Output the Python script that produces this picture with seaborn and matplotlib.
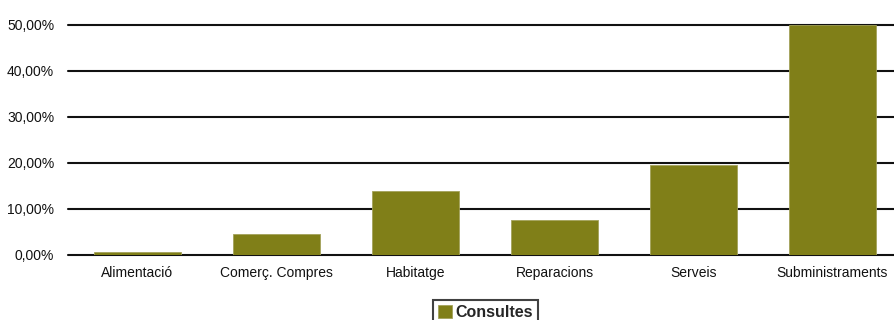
import matplotlib
matplotlib.use("Agg")
import matplotlib.pyplot as plt
import seaborn as sns
import pandas as pd
from matplotlib.ticker import FuncFormatter, MultipleLocator

categories = ["Alimentació", "Comerç. Compres", "Habitatge", "Reparacions", "Serveis", "Subministraments"]
consultes = [0.6, 4.6, 13.85, 7.7, 19.6, 49.9]
series_name = "Consultes"
bar_color = "#807f18"

sns.set_theme(style="white")
plt.rcParams["font.family"] = ["Liberation Sans", "DejaVu Sans"]

df = pd.DataFrame({"categoria": categories, "valor": consultes})

fig = plt.figure(figsize=(8.95, 3.2), dpi=100)
ax = fig.add_axes([68 / 895, 65 / 320, 834 / 895, 230 / 320])

sns.barplot(data=df, x="categoria", y="valor", color=bar_color, saturation=1,
            width=0.63, label=series_name, ax=ax, zorder=3,
            edgecolor="#a3a25a", linewidth=0.6)

ax.set_xlim(-0.5, len(categories) - 0.5)
ax.set_ylim(0, 50)
ax.yaxis.set_major_locator(MultipleLocator(10))
ax.yaxis.set_major_formatter(FuncFormatter(lambda v, _: f"{v:.2f}".replace(".", ",") + "%"))
ax.grid(axis="y", color="#111111", linewidth=1.5, zorder=0)
ax.set_axisbelow(True)
for gl in ax.get_ygridlines():
    gl.set_clip_on(False)
for s in ax.spines.values():
    s.set_visible(False)
ax.tick_params(axis="both", length=0, labelsize=10, colors="#111111")
ax.tick_params(axis="y", pad=10)
ax.tick_params(axis="x", pad=8)
ax.set_xlabel("")
ax.set_ylabel("")
if ax.get_legend() is not None:
    ax.get_legend().remove()

handles, labels = ax.get_legend_handles_labels()
leg = fig.legend(handles, labels, loc="upper center", bbox_to_anchor=(485.5 / 895, 1 - 300 / 320),
                 frameon=True, fancybox=False, prop={"weight": "bold", "size": 11.5},
                 handlelength=0.85, handleheight=0.85, handletextpad=0.25, borderpad=0.3,
                 borderaxespad=0)
leg.get_frame().set_edgecolor("#111111")
leg.get_frame().set_linewidth(1.5)

fig.savefig("out.png", dpi=100)
